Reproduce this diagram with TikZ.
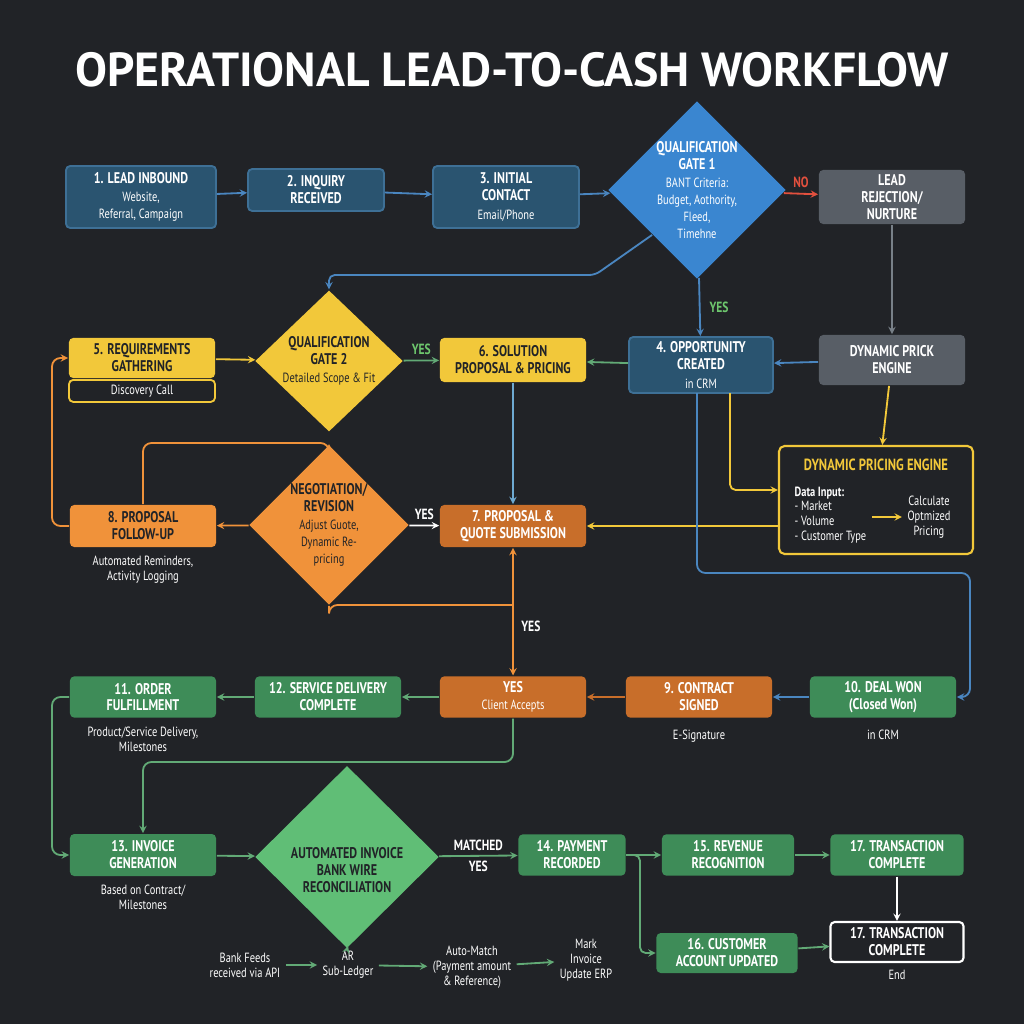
\documentclass[tikz,border=0pt]{standalone}
\usepackage{fontspec}
\setmainfont{PT Sans}
\newfontfamily\cond[FakeStretch=0.78]{PT Sans}
\newcommand\subt{\fontsize{9.5}{10.5}\selectfont\mdseries}
\usepackage{tikz}
\usetikzlibrary{shapes.geometric, arrows, positioning, calc}
\definecolor{bgdark}{RGB}{33,35,39}
\definecolor{bluebox}{RGB}{42,84,112}
\definecolor{blueedge}{RGB}{62,112,150}
\definecolor{bluegate}{RGB}{58,134,208}
\definecolor{blueline}{RGB}{74,134,192}
\definecolor{greybox}{RGB}{88,94,102}
\definecolor{greyline}{RGB}{120,128,136}
\definecolor{yellowbox}{RGB}{242,200,58}
\definecolor{orangebox}{RGB}{240,146,58}
\definecolor{darkorange}{RGB}{200,110,42}
\definecolor{greenbox}{RGB}{62,140,88}
\definecolor{greengate}{RGB}{96,190,118}
\definecolor{greenline}{RGB}{98,170,118}
\definecolor{redline}{RGB}{226,80,62}
\definecolor{yestext}{RGB}{110,200,110}
\definecolor{lightblue}{RGB}{110,170,210}

\begin{document}
\begin{tikzpicture}[x=0.025cm, y=-0.025cm, >=stealth, line width=1.3pt,
    box/.style={rounded corners=3pt,align=center,text=white,font=\cond\fontsize{11}{12}\selectfont\bfseries,inner sep=2pt},
    gate/.style={diamond,align=center,inner sep=0pt,font=\cond\fontsize{11}{12}\selectfont\bfseries},
    note/.style={text=white,align=center,font=\cond\fontsize{9.5}{10.5}\selectfont},
    tag/.style={font=\cond\fontsize{10.5}{11}\selectfont\bfseries}]

\fill[bgdark] (0,0) rectangle (1024,1024);
\node[text=white,font=\fontsize{34}{38}\selectfont\bfseries] (title) at (512,70) {OPERATIONAL LEAD-TO-CASH WORKFLOW};

% row 1
\node[box,fill=bluebox,draw=blueedge,minimum width=3.75cm,minimum height=1.55cm] (lead) at (141,197) {1. LEAD INBOUND\\[1pt]{\subt Website,}\\{\subt Referral, Campaign}};
\node[box,fill=bluebox,draw=blueedge,minimum width=3.4cm,minimum height=1.05cm] (inq) at (316,190) {2. INQUIRY\\RECEIVED};
\node[box,fill=bluebox,draw=blueedge,minimum width=3.65cm,minimum height=1.55cm] (contact) at (506,197) {3. INITIAL\\CONTACT\\[1pt]{\subt Email/Phone}};
\node[gate,fill=bluegate,text=white,minimum width=4.25cm,minimum height=3.675cm] (gateA) at (697,190) {QUALIFICATION\\GATE 1\\[1pt]{\subt BANT Criteria:}\\{\subt Budget, Aothority,}\\{\subt Fleed,}\\{\subt Timehne}};
\node[box,fill=greybox,minimum width=3.65cm,minimum height=1.35cm] (reject) at (892,197) {LEAD\\REJECTION/\\NURTURE};

% row 2
\node[box,fill=yellowbox,text=bgdark,minimum width=3.65cm,minimum height=1.0cm] (req) at (142,358) {5. REQUIREMENTS\\GATHERING};
\node[box,draw=yellowbox,fill=bgdark,minimum width=3.65cm,minimum height=0.55cm,anchor=north] (reqsub) at (142,379) {\subt Discovery Call};
\node[gate,fill=yellowbox,text=bgdark,minimum width=3.7cm,minimum height=3.3cm] (gateB) at (329,361) {QUALIFICATION\\GATE 2\\[1pt]{\subt Detailed Scope \& Fit}};
\node[box,fill=yellowbox,text=bgdark,minimum width=3.65cm,minimum height=1.1cm] (sol) at (513,360) {6. SOLUTION\\PROPOSAL \& PRICING};
\node[box,fill=bluebox,draw=blueedge,minimum width=3.6cm,minimum height=1.4cm] (opp) at (701,365) {4. OPPORTUNITY\\CREATED\\[1pt]{\subt in CRM}};
\node[box,fill=greybox,minimum width=3.65cm,minimum height=1.25cm] (prick) at (892,360) {DYNAMIC PRICK\\ENGINE};

% pricing engine
\node[draw=yellowbox,fill=bgdark,rounded corners=4pt,line width=1.5pt,minimum width=4.85cm,minimum height=2.7cm] (dpe) at (876,500) {};
\node[tag,text=yellowbox,font=\cond\fontsize{11.5}{12}\selectfont\bfseries] (dpetitle) at (876,465) {DYNAMIC PRICING ENGINE};
\node[note,align=left,anchor=west] (dpein) at (789,515) {\textbf{Data Input:}\\- Market\\- Volume\\- Customer Type};
\node[note] (dpeout) at (929,517) {Calculate\\Optmized\\Pricing};
\draw[->,yellowbox] (dpein.east |- dpeout) -- (dpeout.west);

% row 3
\node[box,fill=orangebox,text=bgdark,minimum width=3.65cm,minimum height=1.05cm] (follow) at (143,526) {8. PROPOSAL\\FOLLOW-UP};
\node[note,below=2pt of follow] (followsub) {Automated Reminders,\\Activity Logging};
\node[gate,fill=orangebox,text=bgdark,minimum width=3.7cm,minimum height=3.25cm] (nego) at (329,525) {NEGOTIATION/\\REVISION\\[1pt]{\subt Adjust Guote,}\\{\subt Dynamic Re-}\\{\subt pricing}};
\node[box,fill=darkorange,minimum width=3.65cm,minimum height=1.05cm] (quote) at (513,526) {7. PROPOSAL \&\\QUOTE SUBMISSION};

% row 4
\node[box,fill=greenbox,minimum width=3.65cm,minimum height=1.03cm] (order) at (143,697) {11. ORDER\\FULFILLMENT};
\node[note,below=2pt of order] (ordersub) {Product/Service Delivery,\\Milestones};
\node[box,fill=greenbox,minimum width=3.65cm,minimum height=1.03cm] (service) at (328,697) {12. SERVICE DELIVERY\\COMPLETE};
\node[box,fill=darkorange,minimum width=3.65cm,minimum height=1.03cm] (accept) at (513,697) {YES\\{\subt Client Accepts}};
\node[box,fill=darkorange,minimum width=3.65cm,minimum height=1.03cm] (contract) at (699,697) {9. CONTRACT\\SIGNED};
\node[note,below=4pt of contract] (contractsub) {E-Signature};
\node[box,fill=greenbox,minimum width=3.65cm,minimum height=1.03cm] (won) at (883,697) {10. DEAL WON\\(Closed Won)};
\node[note,below=4pt of won] (wonsub) {in CRM};

% row 5
\node[box,fill=greenbox,minimum width=3.65cm,minimum height=1.05cm] (invoice) at (143,855) {13. INVOICE\\GENERATION};
\node[note,below=2pt of invoice] (invoicesub) {Based on Contract/\\Milestones};
\node[gate,fill=greengate,text=bgdark,minimum width=4.6cm,minimum height=3.675cm] (recon) at (347,857) {\\[14pt]AUTOMATED INVOICE\\BANK WIRE\\RECONCILIATION};
\node[box,fill=greenbox,minimum width=2.675cm,minimum height=1.03cm] (pay) at (572,855) {14. PAYMENT\\RECORDED};
\node[box,fill=greenbox,minimum width=3.3cm,minimum height=1.03cm] (rev) at (728,855) {15. REVENUE\\RECOGNITION};
\node[box,fill=greenbox,minimum width=3.325cm,minimum height=1.03cm] (doneA) at (897,855) {17. TRANSACTION\\COMPLETE};
\node[box,fill=greenbox,minimum width=3.525cm,minimum height=1.0cm] (cust) at (727,953) {16. CUSTOMER\\ACCOUNT UPDATED};
\node[box,draw=white,fill=bgdark,line width=1.5pt,minimum width=3.325cm,minimum height=1.0cm] (doneB) at (897,942) {17. TRANSACTION\\COMPLETE};
\node[note,below=1pt of doneB] (end) {End};

\node[note] (feeds) at (245,965) {Bank Feeds\\received via API};
\node[note] (ledger) at (348,965) {AR\\Sub-Ledger};
\node[note] (match) at (472,967) {Auto-Match\\(Payment amount\\\& Reference)};
\node[note] (mark) at (586,960) {Mark\\Invoice\\Update ERP};

% flow row 1
\draw[->,blueline] (lead) -- (inq);
\draw[->,blueline] (inq) -- (contact);
\draw[->,blueline] (contact) -- (gateA);
\draw[->,redline] (gateA) -- node[tag,above,text=redline] (no) {NO} (reject);
\draw[->,blueline] (gateA) -- node[tag,right=3pt,text=yestext] (yesA) {YES} (opp);
\draw[->,greyline] (reject) -- (prick);
\draw[->,blueline,rounded corners=4pt] ($(gateA.west)!0.5!(gateA.south)$) -- (595,275) -| (gateB.north);

% flow row 2
\draw[->,yellowbox] (req) -- (gateB);
\draw[->,greenline] (gateB) -- node[tag,above,text=yestext] (yesB) {YES} (sol);
\draw[->,greenline] (opp) -- (sol);
\draw[->,blueline] (prick) -- (opp);
\draw[->,yellowbox] (prick) -- (dpe);
\draw[->,yellowbox,rounded corners=4pt] (730,393) |- (dpe.west |- 0,490);
\draw[->,yellowbox] (dpe.west |- quote) -- (quote);
\draw[->,lightblue] (sol) -- (quote);
\draw[->,blueline,rounded corners=6pt] (697,393) |- (970,573) |- (won.east);

% flow row 3
\draw[->,orangebox] (nego) -- (follow);
\draw[->,white] (nego) -- node[tag,above,text=white] (yesC) {YES} (quote);
\draw[->,orangebox,rounded corners=6pt] (follow.west) -- (52,526) |- (req.west);
\draw[->,orangebox,rounded corners=6pt] (follow.north) |- (329,443) -- (nego.north);
\draw[orangebox,rounded corners=6pt] (nego.south) |- (513,605);
\draw[->,orangebox] (513,605) -- (quote.south);
\draw[->,orangebox] (513,605) -- node[tag,right=2pt,pos=0.3,text=white] (yesD) {YES} (accept.north);

% flow row 4
\draw[->,blueline] (won) -- (contract);
\draw[->,darkorange] (contract) -- (accept);
\draw[->,greenline] (accept) -- (service);
\draw[->,greenline] (service) -- (order);
\draw[->,greenline,rounded corners=6pt] (accept.south) |- (143,762) -- (invoice.north);
\draw[->,greenline,rounded corners=6pt] (order.west) -- (52,697) |- (invoice.west);

% flow row 5
\draw[->,greenline] (invoice) -- (recon);
\draw[->,greenline] (recon) -- node[tag,above,text=white] (matched) {MATCHED} node[tag,below,text=white] (yesE) {YES} (pay);
\draw[->,greenline] (pay) -- (rev);
\draw[->,greenline] (rev) -- (doneA);
\draw[->,white] (doneA) -- (doneB);
\draw[->,greenline,rounded corners=4pt] (pay.east) -- (640,855) |- (cust.west);
\draw[->,greenline] (cust) -- (doneB);
\draw[->,greenline] (recon.south) -- (ledger.north);
\draw[->,greenline] (feeds) -- (ledger);
\draw[->,greenline] (ledger) -- (match);
\draw[->,greenline] (match) -- (mark);
\end{tikzpicture}
\end{document}
